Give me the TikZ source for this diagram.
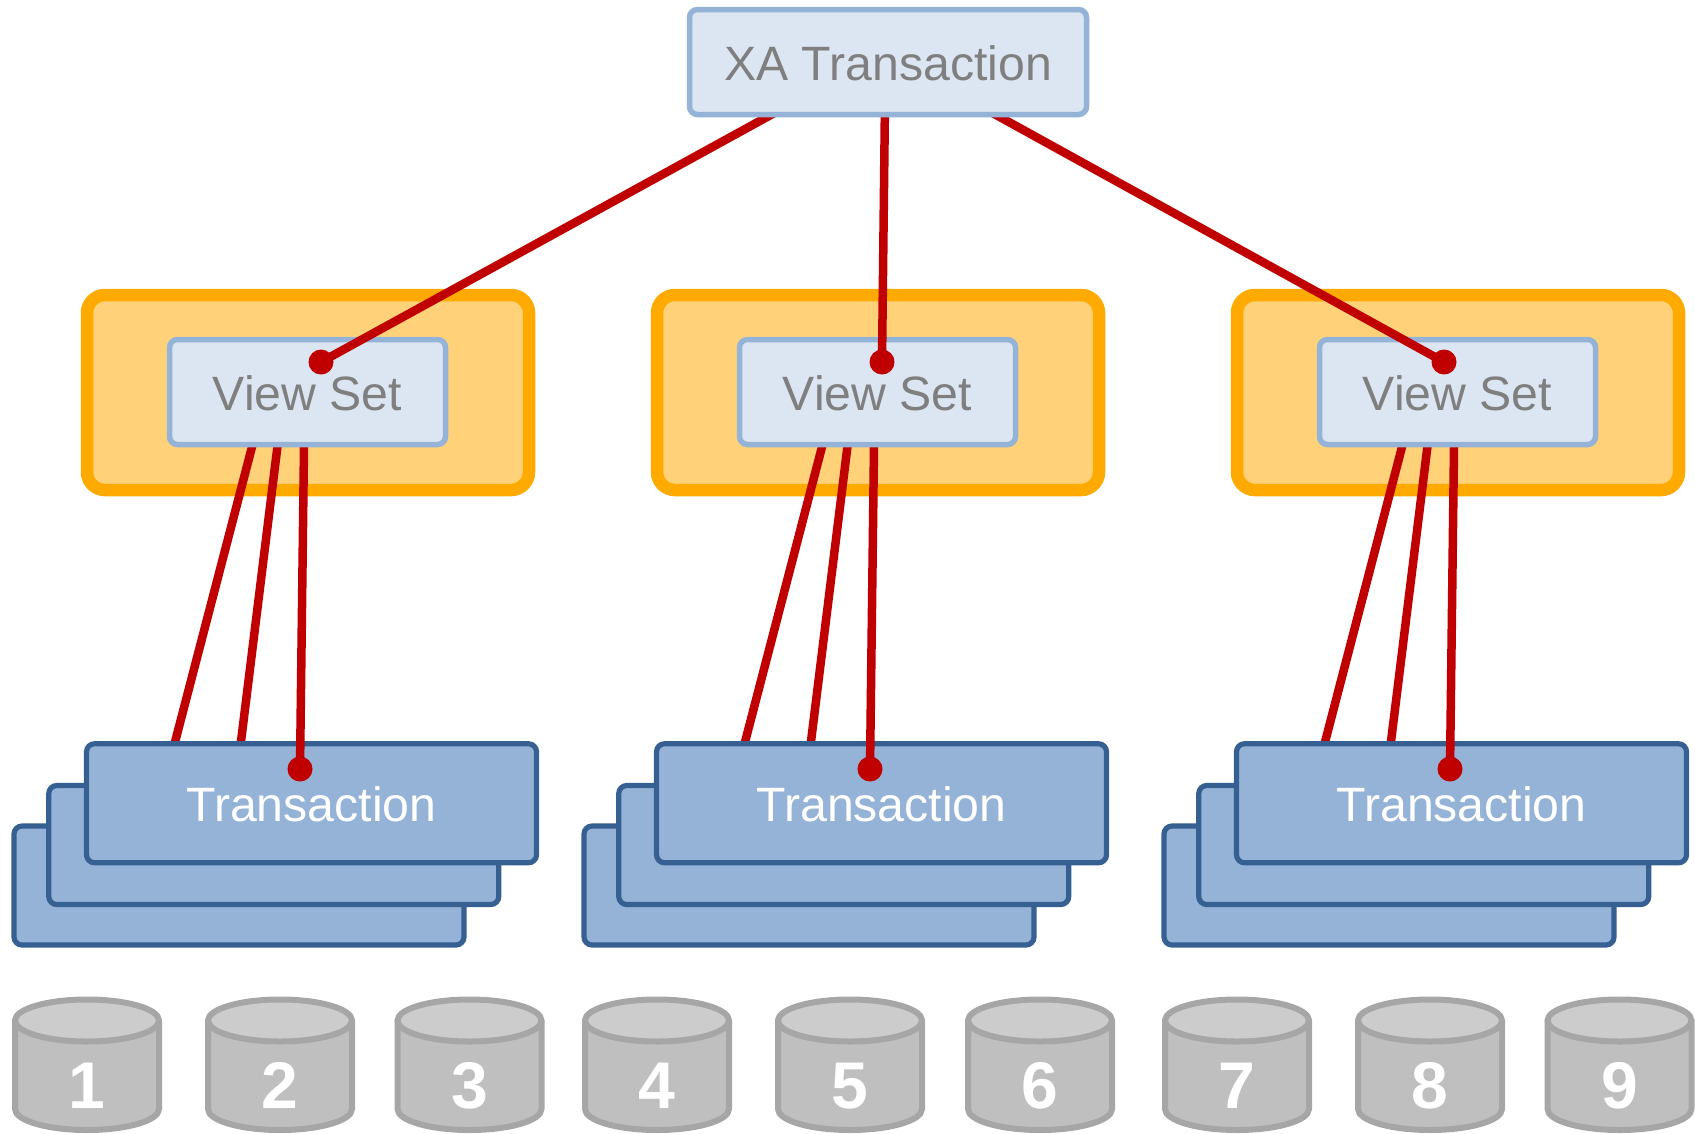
\documentclass[tikz,border=0pt]{standalone}
\usepackage{fontspec}
\setmainfont{Liberation Sans}
\definecolor{linkred}{HTML}{C00000}
\definecolor{orangeedge}{HTML}{FFAA00}
\definecolor{orangefill}{HTML}{FFD27A}
\definecolor{blueedge}{HTML}{376092}
\definecolor{bluefill}{HTML}{95B3D7}
\definecolor{paleblue}{HTML}{DCE6F2}
\definecolor{greytext}{HTML}{7F7F7F}
\definecolor{cylbody}{HTML}{BFBFBF}
\definecolor{cyltop}{HTML}{CCCCCC}
\definecolor{cyledge}{HTML}{A6A6A6}
\tikzset{
  labelfont/.style={font=\fontsize{48.2}{58}\selectfont,text height=37pt,text depth=0pt,inner sep=0pt,outer sep=0pt},
  lightbox/.style={labelfont,draw=bluefill,fill=paleblue,line width=5.5pt,rounded corners=8pt,text=greytext,minimum height=105pt},
  txbox/.style={labelfont,draw=blueedge,fill=bluefill,line width=5.2pt,rounded corners=8pt,text=white,minimum width=450pt,minimum height=119pt},
  setbox/.style={draw=orangeedge,fill=orangefill,line width=12.5pt,rounded corners=18pt,minimum width=442pt,minimum height=195pt,inner sep=0pt,outer sep=0pt},
  redline/.style={draw=linkred,line width=8.5pt},
  reddot/.style={circle,fill=linkred,minimum size=25pt,inner sep=0pt,outer sep=0pt},
  cylshape/.style={draw=cyledge,line width=6pt,line join=round},
  cylnum/.style={font=\fontsize{66}{72}\selectfont\bfseries,text=white,anchor=base,inner sep=0pt}
}
\begin{document}
\begin{tikzpicture}[x=1pt,y=-1pt]
\useasboundingbox (0,0) rectangle (1695,1133);
% coordinates the upper connectors enter the top box at
\coordinate (topa) at (798,100);
\coordinate (topb) at (885,100);
\coordinate (topc) at (969,100);
% groups: orange set, stacked transactions, lower connectors, view box
\foreach \g/\dx/\dotx in {a/0/321,b/570/882,c/1150/1444}{
  \node[setbox] (set\g) at (308+\dx,392.5) {};
  \node[txbox] (back\g) at (239+\dx,885.5) {};
  \node[txbox] (mid\g) at (273.75+\dx,845) {};
  \coordinate (vp\g) at (256.4+\dx,430);
  \coordinate (vq\g) at (279.5+\dx,430);
  \coordinate (vr\g) at (304.2+\dx,430);
  \coordinate (endp\g) at (162.5+\dx,790);
  \coordinate (endq\g) at (235+\dx,790);
  \draw[redline] (vp\g) -- (endp\g);
  \draw[redline] (vq\g) -- (endq\g);
  \node[txbox] (front\g) at (311.5+\dx,803.25) {Transaction};
  \node[reddot] (txdot\g) at (300+\dx,769) {};
  \draw[redline] (vr\g) -- (txdot\g.center);
  \node[lightbox,minimum width=276pt] (view\g) at (307.5+\dx,392) {View Set};
  \node[reddot] (viewdot\g) at (\dotx,362) {};
  \draw[redline] (top\g) -- (viewdot\g.center);
}
\node[lightbox,minimum width=397pt] (xa) at (888,62) {XA Transaction};
% databases
\foreach \n/\cx in {1/87,2/280,3/469.5,4/657,5/850,6/1040,7/1237,8/1430,9/1619.5}{
  \filldraw[cylshape,fill=cylbody] (\cx-72,1020.5) -- (\cx-72,1109)
    arc[start angle=180,end angle=360,x radius=72pt,y radius=21pt] -- (\cx+72,1020.5) -- cycle;
  \filldraw[cylshape,fill=cyltop] (\cx,1020.5) ellipse[x radius=72pt,y radius=21pt];
  \node[cylnum] (db\n) at (\cx,1108) {\n};
}
\end{tikzpicture}
\end{document}
